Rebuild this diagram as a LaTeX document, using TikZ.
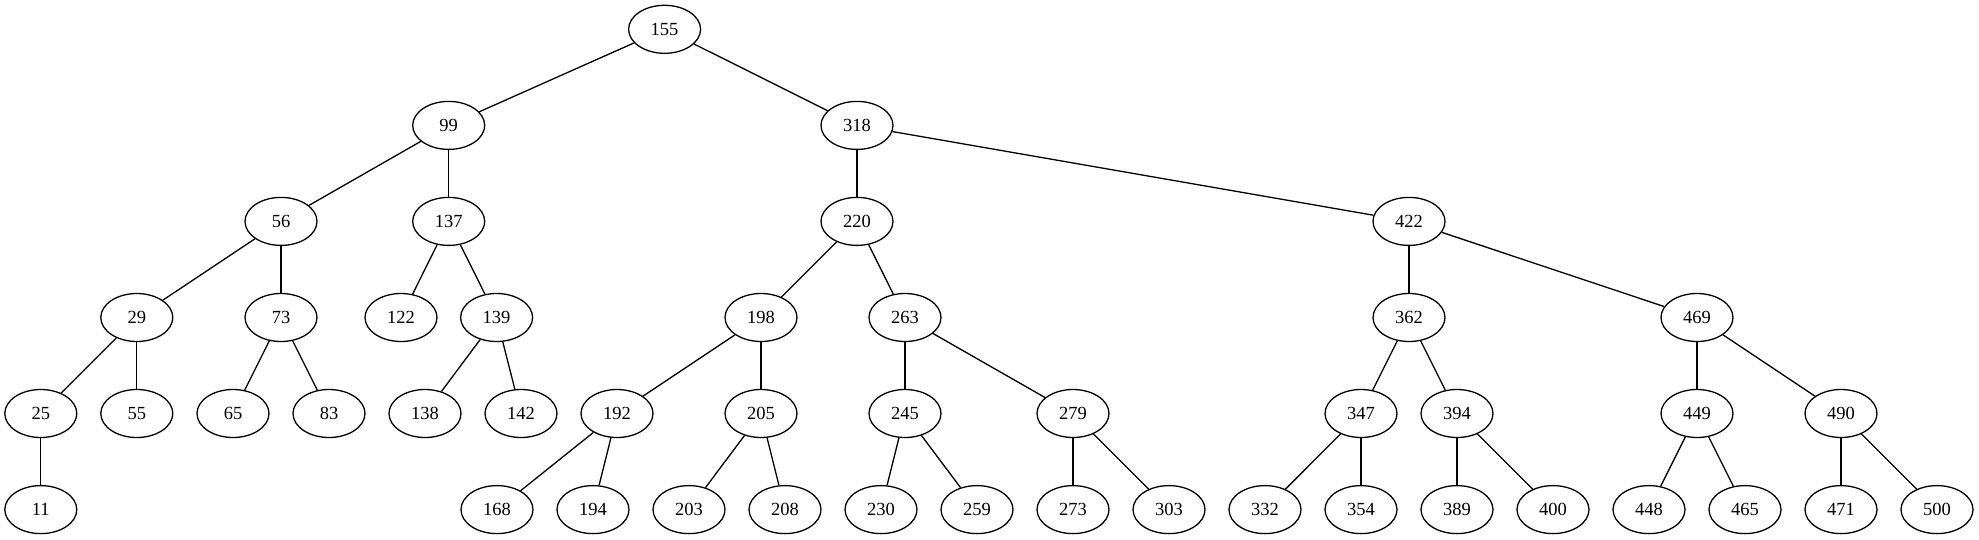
\documentclass[tikz,border=0pt]{standalone}
\usepackage{fontspec}
\setmainfont{Liberation Serif}
\usetikzlibrary{shapes.geometric}
\tikzset{
  tn/.style={draw, ellipse, line width=1.3pt, minimum width=72pt, minimum height=48pt, inner sep=0pt, font=\fontsize{18.5}{20}\selectfont},
  te/.style={line width=1.3pt}
}
\begin{document}
\begin{tikzpicture}[x=1pt,y=-1pt]
\useasboundingbox (0,0) rectangle (1979,539);
% level 0
\node[tn] (n155) at (664.6,29.3) {155};
% level 1
\node[tn] (n99) at (448.7,125.4) {99};
\node[tn] (n318) at (857,125.4) {318};
% level 2
\node[tn] (n56) at (281,221.4) {56};
\node[tn] (n137) at (448.7,221.4) {137};
\node[tn] (n220) at (857,221.4) {220};
\node[tn] (n422) at (1409,221.4) {422};
% level 3
\node[tn] (n29) at (136.8,317.5) {29};
\node[tn] (n73) at (281,317.5) {73};
\node[tn] (n122) at (401,317.5) {122};
\node[tn] (n139) at (496.6,317.5) {139};
\node[tn] (n198) at (761,317.5) {198};
\node[tn] (n263) at (905,317.5) {263};
\node[tn] (n362) at (1409,317.5) {362};
\node[tn] (n469) at (1697,317.5) {469};
% level 4
\node[tn] (n25) at (40.8,413.5) {25};
\node[tn] (n55) at (136.8,413.5) {55};
\node[tn] (n65) at (233,413.5) {65};
\node[tn] (n83) at (329,413.5) {83};
\node[tn] (n138) at (425,413.5) {138};
\node[tn] (n142) at (521,413.5) {142};
\node[tn] (n192) at (617,413.5) {192};
\node[tn] (n205) at (761,413.5) {205};
\node[tn] (n245) at (905,413.5) {245};
\node[tn] (n279) at (1073,413.5) {279};
\node[tn] (n347) at (1361,413.5) {347};
\node[tn] (n394) at (1457,413.5) {394};
\node[tn] (n449) at (1697,413.5) {449};
\node[tn] (n490) at (1841,413.5) {490};
% level 5
\node[tn] (n11) at (40.8,509.6) {11};
\node[tn] (n168) at (497,509.6) {168};
\node[tn] (n194) at (593,509.6) {194};
\node[tn] (n203) at (689,509.6) {203};
\node[tn] (n208) at (785,509.6) {208};
\node[tn] (n230) at (881,509.6) {230};
\node[tn] (n259) at (977,509.6) {259};
\node[tn] (n273) at (1073,509.6) {273};
\node[tn] (n303) at (1169,509.6) {303};
\node[tn] (n332) at (1265,509.6) {332};
\node[tn] (n354) at (1361,509.6) {354};
\node[tn] (n389) at (1457,509.6) {389};
\node[tn] (n400) at (1553,509.6) {400};
\node[tn] (n448) at (1649,509.6) {448};
\node[tn] (n465) at (1745,509.6) {465};
\node[tn] (n471) at (1841,509.6) {471};
\node[tn] (n500) at (1937,509.6) {500};
% edges
\foreach \a/\b in {155/99,155/318,
  99/56,99/137,318/220,318/422,
  56/29,56/73,137/122,137/139,220/198,220/263,422/362,422/469,
  29/25,29/55,73/65,73/83,139/138,139/142,198/192,198/205,263/245,263/279,
  362/347,362/394,469/449,469/490,
  25/11,192/168,192/194,205/203,205/208,245/230,245/259,279/273,279/303,
  347/332,347/354,394/389,394/400,449/448,449/465,490/471,490/500}
  \draw[te] (n\a) -- (n\b);
\end{tikzpicture}
\end{document}
